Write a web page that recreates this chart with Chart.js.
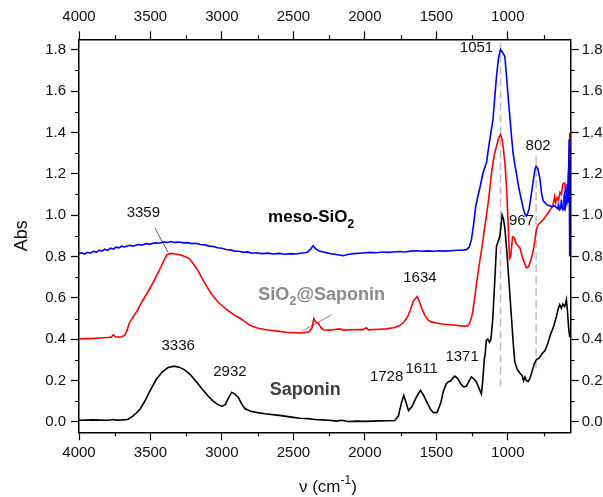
<!DOCTYPE html>
<html>
<head>
<meta charset="utf-8">
<script src="https://cdn.jsdelivr.net/npm/chart.js@4.4.0/dist/chart.umd.min.js"></script>
<style>
  html, body { margin: 0; padding: 0; background: #fff; }
  canvas { display: block; }
</style>
</head>
<body>
<canvas id="ftir" width="603" height="497"></canvas>
<script>
// FTIR spectra, wavenumber (cm-1) vs absorbance
const sapWn = [4000, 3900, 3800, 3760, 3740, 3700, 3660, 3630, 3600, 3570, 3540, 3500, 3460, 3420, 3380, 3336, 3300, 3260, 3220, 3180,
  3140, 3100, 3060, 3030, 3000, 2975, 2955, 2932, 2910, 2885, 2860, 2840, 2800, 2750, 2700, 2600, 2500, 2455, 2400, 2350,
  2300, 2250, 2200, 2160, 2120, 2050, 2000, 1950, 1900, 1850, 1790, 1765, 1745, 1728, 1712, 1695, 1670, 1640, 1611, 1590,
  1565, 1540, 1520, 1495, 1470, 1450, 1430, 1415, 1400, 1385, 1371, 1350, 1330, 1310, 1290, 1270, 1254, 1240, 1220, 1200,
  1185, 1175, 1165, 1158, 1150, 1140, 1128, 1118, 1105, 1090, 1079, 1065, 1055, 1048, 1040, 1030, 1021, 1010, 998, 985,
  974, 962, 951, 935, 916, 900, 890, 880, 870, 858, 845, 830, 815, 800, 780, 760, 740, 720, 700, 680,
  660, 648, 637, 625, 615, 602, 595, 590, 583, 575, 567];
const sapAbs = [0.008, 0.010, 0.008, 0.012, 0.009, 0.010, 0.012, 0.025, 0.042, 0.065, 0.100, 0.155, 0.205, 0.240, 0.262, 0.270, 0.265, 0.252, 0.228, 0.195,
  0.160, 0.128, 0.100, 0.085, 0.075, 0.085, 0.115, 0.143, 0.135, 0.118, 0.085, 0.065, 0.052, 0.045, 0.040, 0.032, 0.022, 0.018, 0.016, 0.012,
  0.010, 0.008, 0.004, 0.008, 0.002, 0.004, 0.003, 0.004, 0.005, 0.006, 0.007, 0.030, 0.090, 0.128, 0.095, 0.055, 0.075, 0.120, 0.153, 0.130,
  0.095, 0.060, 0.045, 0.046, 0.090, 0.150, 0.185, 0.195, 0.198, 0.212, 0.222, 0.210, 0.185, 0.170, 0.172, 0.200, 0.218, 0.210, 0.195, 0.160,
  0.135, 0.200, 0.300, 0.330, 0.395, 0.400, 0.385, 0.400, 0.500, 0.700, 0.850, 0.880, 0.900, 0.950, 1.000, 0.980, 0.940, 0.850, 0.740, 0.610,
  0.500, 0.380, 0.290, 0.255, 0.237, 0.225, 0.200, 0.218, 0.200, 0.196, 0.210, 0.245, 0.280, 0.302, 0.310, 0.330, 0.345, 0.380, 0.425, 0.460,
  0.510, 0.545, 0.567, 0.550, 0.570, 0.558, 0.575, 0.591, 0.540, 0.460, 0.410];

const hybWn = [4000, 3950, 3900, 3853, 3800, 3775, 3760, 3745, 3720, 3700, 3680, 3665, 3650, 3620, 3590, 3560, 3530, 3500, 3470, 3440,
  3410, 3385, 3359, 3330, 3294, 3260, 3230, 3200, 3170, 3140, 3110, 3080, 3050, 3020, 2990, 2960, 2930, 2900, 2870, 2840,
  2810, 2780, 2740, 2700, 2650, 2600, 2550, 2500, 2455, 2420, 2390, 2370, 2357, 2345, 2327, 2305, 2290, 2250, 2210, 2175,
  2150, 2100, 2050, 2020, 1988, 1975, 1900, 1850, 1800, 1760, 1730, 1700, 1680, 1660, 1634, 1620, 1600, 1580, 1560, 1540,
  1500, 1450, 1400, 1350, 1300, 1280, 1265, 1250, 1235, 1219, 1200, 1184, 1170, 1151, 1135, 1114, 1095, 1079, 1065, 1051,
  1040, 1033, 1020, 1009, 998, 988, 980, 967, 955, 940, 916, 895, 870, 855, 840, 823, 810, 800, 788, 770,
  753, 735, 718, 700, 683, 672, 665, 655, 645, 635, 625, 615, 602, 596, 585, 578, 571, 567];
const hybAbs = [0.401, 0.403, 0.404, 0.406, 0.408, 0.410, 0.422, 0.412, 0.410, 0.412, 0.420, 0.440, 0.475, 0.510, 0.540, 0.580, 0.615, 0.650, 0.690, 0.730,
  0.775, 0.808, 0.815, 0.812, 0.808, 0.800, 0.790, 0.765, 0.735, 0.695, 0.660, 0.625, 0.598, 0.575, 0.557, 0.540, 0.525, 0.512, 0.500, 0.485,
  0.470, 0.460, 0.452, 0.447, 0.442, 0.438, 0.434, 0.432, 0.430, 0.432, 0.436, 0.455, 0.500, 0.485, 0.478, 0.455, 0.446, 0.444, 0.447, 0.450,
  0.444, 0.446, 0.447, 0.445, 0.455, 0.445, 0.448, 0.450, 0.455, 0.465, 0.480, 0.510, 0.545, 0.585, 0.607, 0.585, 0.545, 0.515, 0.495, 0.485,
  0.478, 0.472, 0.470, 0.466, 0.462, 0.465, 0.480, 0.515, 0.580, 0.670, 0.760, 0.830, 0.900, 0.990, 1.070, 1.204, 1.290, 1.333, 1.370, 1.389,
  1.365, 1.333, 1.250, 1.139, 0.960, 0.790, 0.800, 0.895, 0.890, 0.860, 0.843, 0.790, 0.745, 0.750, 0.780, 0.825, 0.880, 0.930, 0.954, 0.965,
  0.978, 0.995, 1.010, 1.030, 1.050, 1.090, 1.060, 1.085, 1.075, 1.110, 1.100, 1.150, 1.156, 1.120, 1.075, 1.190, 1.252, 1.397];

const mesoWn = [4000, 3980, 3960, 3940, 3920, 3900, 3880, 3860, 3840, 3820, 3800, 3780, 3760, 3740, 3720, 3700, 3680, 3650, 3620, 3590,
  3560, 3530, 3500, 3470, 3440, 3410, 3380, 3359, 3330, 3300, 3270, 3240, 3210, 3180, 3150, 3120, 3090, 3060, 3030, 3000,
  2970, 2940, 2910, 2880, 2850, 2820, 2790, 2760, 2720, 2680, 2640, 2600, 2560, 2520, 2480, 2450, 2420, 2400, 2380, 2362,
  2345, 2320, 2290, 2250, 2200, 2170, 2150, 2120, 2080, 2040, 2000, 1960, 1920, 1880, 1840, 1800, 1760, 1720, 1680, 1640,
  1600, 1560, 1520, 1480, 1440, 1400, 1360, 1320, 1290, 1270, 1255, 1240, 1225, 1210, 1196, 1175, 1149, 1126, 1104, 1090,
  1079, 1065, 1051, 1040, 1021, 1010, 998, 985, 974, 963, 950, 939, 928, 910, 893, 880, 870, 860, 851, 840,
  823, 812, 802, 790, 776, 765, 753, 740, 730, 715, 700, 690, 675, 660, 650, 645, 636, 630, 625, 618,
  613, 607, 602, 596, 590, 585, 580, 576, 571, 568, 566];
const mesoAbs = [0.815, 0.818, 0.812, 0.820, 0.816, 0.825, 0.820, 0.830, 0.826, 0.835, 0.830, 0.840, 0.836, 0.845, 0.842, 0.850, 0.846, 0.854, 0.850, 0.858,
  0.855, 0.862, 0.860, 0.866, 0.864, 0.870, 0.868, 0.872, 0.868, 0.870, 0.866, 0.867, 0.862, 0.864, 0.858, 0.856, 0.850, 0.848, 0.842, 0.840,
  0.834, 0.832, 0.826, 0.825, 0.820, 0.822, 0.816, 0.818, 0.814, 0.816, 0.812, 0.815, 0.811, 0.814, 0.812, 0.816, 0.818, 0.822, 0.835, 0.852,
  0.838, 0.826, 0.822, 0.815, 0.810, 0.806, 0.804, 0.810, 0.814, 0.816, 0.818, 0.820, 0.818, 0.822, 0.820, 0.822, 0.824, 0.822, 0.826, 0.828,
  0.825, 0.827, 0.825, 0.828, 0.826, 0.828, 0.830, 0.830, 0.833, 0.845, 0.880, 0.950, 1.040, 1.090, 1.130, 1.200, 1.255, 1.365, 1.462, 1.580,
  1.671, 1.760, 1.800, 1.790, 1.768, 1.680, 1.574, 1.470, 1.381, 1.300, 1.240, 1.200, 1.150, 1.090, 1.035, 1.005, 0.995, 1.010, 1.030, 1.080,
  1.160, 1.215, 1.236, 1.225, 1.180, 1.110, 1.070, 1.060, 1.052, 1.046, 1.044, 1.040, 1.046, 1.038, 1.030, 1.050, 1.027, 1.035, 1.075, 1.030,
  1.025, 1.090, 1.107, 1.040, 1.060, 1.150, 1.060, 1.139, 1.365, 1.200, 0.800];

// marked band positions (dashed guides) and their vertical extent
const guideWn = [1051, 802];
const guideTop = [1.835, 1.284];
const guideBottom = [0.166, 0.245];

const xTicks = [4000, 3500, 3000, 2500, 2000, 1500, 1000];
const xMinor = [3750, 3250, 2750, 2250, 1750, 1250, 750];
const yTicks = [0, 0.2, 0.4, 0.6, 0.8, 1.0, 1.2, 1.4, 1.6, 1.8];
const yMinor = [0.1, 0.3, 0.5, 0.7, 0.9, 1.1, 1.3, 1.5, 1.7];

const FONT = '"Liberation Sans", Arial, sans-serif';

// text notes placed in data coordinates
const notes = [
  { parts: [['3359']], x: 3550, y: 1.013 },
  { parts: [['1051']], x: 1219, y: 1.808 },
  { parts: [['802']], x: 788, y: 1.337 },
  { parts: [['967']], x: 904, y: 0.970 },
  { parts: [['1634']], x: 1615, y: 0.696 },
  { parts: [['3336']], x: 3306, y: 0.370 },
  { parts: [['2932']], x: 2944, y: 0.240 },
  { parts: [['1728']], x: 1848, y: 0.220 },
  { parts: [['1611']], x: 1603, y: 0.256 },
  { parts: [['1371']], x: 1320, y: 0.317 },
  { parts: [['meso-SiO'], ['2', 'sub']], x: 2677, y: 0.987, align: 'left', bold: true, size: 17, color: '#000' },
  { parts: [['SiO'], ['2', 'sub'], ['@Saponin']], x: 2746, y: 0.616, align: 'left', bold: true, size: 18, color: '#8a8a8a' },
  { parts: [['Saponin']], x: 2665, y: 0.156, align: 'left', bold: true, size: 18, color: '#404040' }
];

const pts = (xs, ys) => xs.map((x, i) => ({ x: x, y: ys[i] }));

const datasets = [
  { label: 'meso-SiO2', data: pts(mesoWn, mesoAbs), borderColor: '#0000ff' },
  { label: 'SiO2@Saponin', data: pts(hybWn, hybAbs), borderColor: '#ff0000' },
  { label: 'Saponin', data: pts(sapWn, sapAbs), borderColor: '#000000' },
  { label: 'lead 3359', data: [{ x: 3469, y: 0.938 }, { x: 3376, y: 0.820 }], borderColor: '#333', borderWidth: 0.8 },
  { label: 'lead hybrid', data: [{ x: 2443, y: 0.438 }, { x: 2233, y: 0.518 }], borderColor: '#666', borderWidth: 0.8 }
];
guideWn.forEach((w, i) => {
  datasets.push({
    label: 'guide ' + w,
    data: [{ x: w, y: guideTop[i] }, { x: w, y: guideBottom[i] }],
    borderColor: '#bdbdbd', borderWidth: 1.5, borderDash: [8, 4]
  });
});

function axisX(position, height) {
  return {
    type: 'linear', position: position, reverse: true, min: 560, max: 4000,
    grid: { drawOnChartArea: false, drawTicks: true, tickLength: 8, tickColor: '#000', tickWidth: 1.2 },
    border: { display: true, color: '#000', width: 1.5 },
    ticks: {
      color: '#111', font: { family: FONT, size: 15 }, padding: position === 'top' ? 5 : 4,
      autoSkip: false, maxRotation: 0, callback: v => String(v)
    },
    afterBuildTicks: s => { s.ticks = xTicks.map(v => ({ value: v })); },
    afterFit: s => { s.height = height; }
  };
}

function axisY(position, width) {
  return {
    type: 'linear', position: position, min: -0.05, max: 1.85,
    grid: { drawOnChartArea: false, drawTicks: true, tickLength: 8, tickColor: '#000', tickWidth: 1.2 },
    border: { display: true, color: '#000', width: 1.5 },
    ticks: { color: '#111', font: { family: FONT, size: 15 }, padding: position === 'left' ? 5 : 3, callback: v => v.toFixed(1) },
    afterBuildTicks: s => { s.ticks = yTicks.map(v => ({ value: v })); },
    afterFit: s => { s.width = width; }
  };
}

function drawParts(ctx, parts, x, y, align, size, bold, color) {
  const w = bold ? 'bold ' : '';
  const big = w + size + 'px ' + FONT;
  const small = w + Math.round(size * 0.7) + 'px ' + FONT;
  let total = 0;
  parts.forEach(p => { ctx.font = p[1] ? small : big; total += ctx.measureText(p[0]).width; });
  let cx = align === 'left' ? x : x - total / 2;
  ctx.fillStyle = color;
  ctx.textBaseline = 'middle';
  ctx.textAlign = 'left';
  parts.forEach(p => {
    ctx.font = p[1] ? small : big;
    const dy = p[1] === 'sub' ? size * 0.4 : p[1] === 'sup' ? -size * 0.35 : 0;
    ctx.fillText(p[0], cx, y + dy);
    cx += ctx.measureText(p[0]).width;
  });
}

const decorations = {
  id: 'decorations',
  afterDraw(chart) {
    const { ctx, chartArea: a, scales } = chart;
    ctx.save();
    // minor ticks on all four sides
    ctx.strokeStyle = '#000';
    ctx.lineWidth = 1.2;
    ctx.beginPath();
    xMinor.forEach(v => {
      const px = Math.round(scales.x.getPixelForValue(v)) + 0.5;
      ctx.moveTo(px, a.bottom); ctx.lineTo(px, a.bottom + 4);
      ctx.moveTo(px, a.top); ctx.lineTo(px, a.top - 4);
    });
    yMinor.forEach(v => {
      const py = Math.round(scales.y.getPixelForValue(v)) + 0.5;
      ctx.moveTo(a.left, py); ctx.lineTo(a.left - 4, py);
      ctx.moveTo(a.right, py); ctx.lineTo(a.right + 4, py);
    });
    ctx.stroke();

    notes.forEach(n => {
      drawParts(ctx, n.parts, scales.x.getPixelForValue(n.x), scales.y.getPixelForValue(n.y),
        n.align || 'center', n.size || 15, n.bold, n.color || '#111');
    });

    // axis titles
    drawParts(ctx, [['ν (cm'], ['-1', 'sup'], [')']], (a.left + a.right) / 2 + 3, 487, 'center', 17, false, '#111');
    ctx.translate(22.5, (a.top + a.bottom) / 2);
    ctx.rotate(-Math.PI / 2);
    drawParts(ctx, [['Abs']], 0, 0, 'center', 18, false, '#111');
    ctx.restore();
  }
};

new Chart(document.getElementById('ftir').getContext('2d'), {
  type: 'line',
  data: { datasets: datasets },
  options: {
    responsive: false,
    animation: false,
    parsing: true,
    layout: { padding: 0 },
    plugins: { legend: { display: false }, tooltip: { enabled: false } },
    elements: { point: { radius: 0 }, line: { tension: 0, borderWidth: 1.6, fill: false } },
    scales: {
      x: axisX('bottom', 64.7),
      xTop: axisX('top', 39.3),
      y: axisY('left', 79),
      yRight: axisY('right', 32.3)
    }
  },
  plugins: [decorations]
});
</script>
</body>
</html>
